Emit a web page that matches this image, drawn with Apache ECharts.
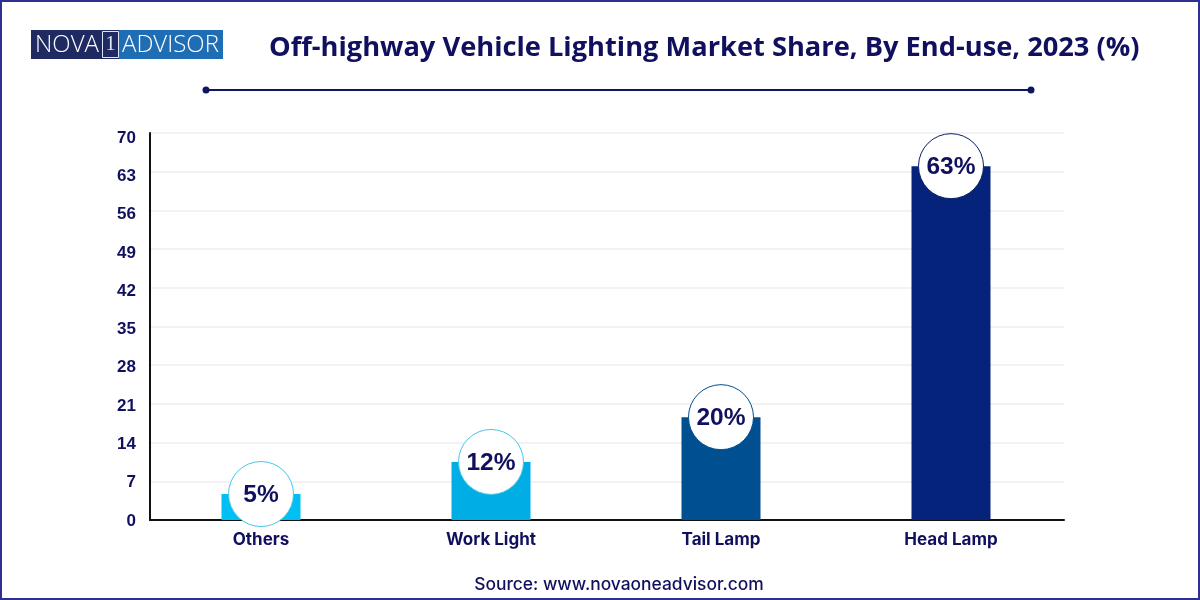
<!DOCTYPE html>
<html>
<head>
<meta charset="utf-8">
<style>
  html, body { margin: 0; padding: 0; background: #fff; }
  #main { width: 1200px; height: 600px; }
</style>
<script src="https://cdn.jsdelivr.net/npm/echarts@6/dist/echarts.min.js"></script>
</head>
<body>
<div id="main"></div>
<script>
const categories = ['Others', 'Work Light', 'Tail Lamp', 'Head Lamp'];
const barHeights = [4.7, 10.5, 18.6, 64];
const shareLabels = ['5%', '12%', '20%', '63%'];
const barColors = ['#00BFF3', '#00AEE5', '#004F91', '#06237B'];
const ringColors = ['#45C8E8', '#45C8E8', '#004F91', '#0B1F66'];
const navy = '#10105F';

const myChart = echarts.init(document.getElementById('main'), null, { renderer: 'canvas' });

myChart.setOption({
  animation: false,
  backgroundColor: '#fff',
  title: {
    text: 'Off-highway Vehicle Lighting Market Share, By End-use, 2023 (%)',
    left: 264,
    top: 30,
    textStyle: { fontFamily: 'Open Sans', fontWeight: 700, fontSize: 27.25, color: navy }
  },
  // grid 0: frame and gridlines, grid 1: bars, grid 2: tick labels (they sit on a slightly tighter scale in the reference)
  grid: [
    { left: 150, top: 133, width: 914, height: 387 },
    { left: 146, top: 133, width: 920, height: 387 },
    { left: 150, top: 138, width: 914, height: 383 }
  ],
  xAxis: [
    {
      type: 'category', gridIndex: 0, data: categories,
      axisLine: { lineStyle: { color: '#111', width: 2 } },
      axisTick: { show: false },
      axisLabel: { show: false }
    },
    {
      type: 'category', gridIndex: 1, data: categories,
      axisLine: { show: false },
      axisTick: { show: false },
      axisLabel: { margin: 11, fontFamily: 'Inter', fontWeight: 700, fontSize: 17, color: navy }
    },
    { type: 'category', gridIndex: 2, data: categories, show: false }
  ],
  yAxis: [
    {
      type: 'value', gridIndex: 0, min: 0, max: 70, interval: 7,
      axisLine: { show: true, lineStyle: { color: '#111', width: 2 } },
      axisTick: { show: false },
      axisLabel: { show: false },
      splitLine: { lineStyle: { color: '#F2F2F2', width: 2 } }
    },
    { type: 'value', gridIndex: 1, min: 0, max: 70, interval: 7, show: false },
    {
      type: 'value', gridIndex: 2, min: 0, max: 70, interval: 7,
      axisLine: { show: false },
      axisTick: { show: false },
      axisLabel: { margin: 14, fontFamily: 'Liberation Sans', fontWeight: 700, fontSize: 17, color: navy },
      splitLine: { show: false }
    }
  ],
  series: [
    {
      type: 'bar',
      xAxisIndex: 1,
      yAxisIndex: 1,
      barWidth: 79,
      z: 3,
      data: barHeights.map((v, i) => ({ value: v, itemStyle: { color: barColors[i] } }))
    },
    {
      type: 'scatter',
      xAxisIndex: 1,
      yAxisIndex: 1,
      symbol: 'circle',
      symbolSize: 65,
      z: 5,
      data: barHeights.map((v, i) => ({
        value: v,
        itemStyle: { color: '#fff', opacity: 1, borderColor: ringColors[i], borderWidth: 1 },
        label: {
          show: true,
          position: 'inside',
          offset: [0, 1],
          formatter: shareLabels[i],
          fontFamily: 'Liberation Sans',
          fontWeight: 700,
          fontSize: 24.5,
          color: navy
        }
      }))
    }
  ],
  graphic: [
    // page border
    { type: 'rect', shape: { x: 1, y: 1, width: 1198, height: 598 }, style: { fill: 'none', stroke: '#2E3192', lineWidth: 2 } },
    // logo
    { type: 'rect', shape: { x: 31, y: 30, width: 88, height: 29 }, style: { fill: '#1F2A63' } },
    { type: 'rect', shape: { x: 119, y: 30, width: 104, height: 29 }, style: { fill: '#1F6DB5' } },
    { type: 'rect', shape: { x: 102.5, y: 31.5, width: 16, height: 26 }, style: { fill: 'none', stroke: '#DDE6F2', lineWidth: 1 } },
    { type: 'text', style: { x: 35, y: 45, text: 'NOVA', fill: '#fff', font: '300 24px "Open Sans"', verticalAlign: 'middle', textAlign: 'left' } },
    { type: 'text', style: { x: 110.5, y: 45, text: '1', fill: '#DDE6F2', font: '300 20px "Liberation Serif"', verticalAlign: 'middle', textAlign: 'center' } },
    { type: 'text', style: { x: 122, y: 45, text: 'ADVISOR', fill: '#fff', font: '300 24px "Open Sans"', verticalAlign: 'middle', textAlign: 'left' } },
    // rule under title
    { type: 'line', shape: { x1: 206, y1: 90, x2: 1031, y2: 90 }, style: { stroke: '#10155F', lineWidth: 2 } },
    { type: 'circle', shape: { cx: 206, cy: 90, r: 3.5 }, style: { fill: '#10155F' } },
    { type: 'circle', shape: { cx: 1031, cy: 90, r: 3.5 }, style: { fill: '#10155F' } },
    // source
    { type: 'text', style: { x: 619, y: 585, text: 'Source: www.novaoneadvisor.com', fill: navy, font: '500 17.4px Inter', verticalAlign: 'middle', textAlign: 'center' } }
  ]
});
</script>
</body>
</html>
